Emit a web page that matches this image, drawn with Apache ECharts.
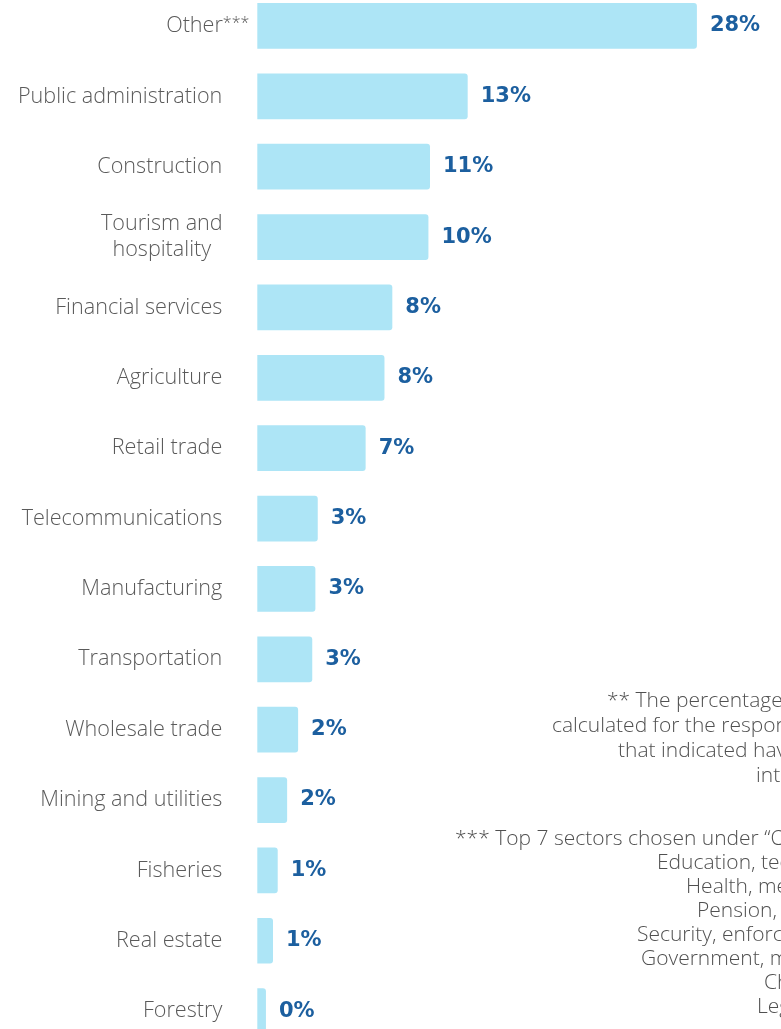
<!DOCTYPE html>
<html>
<head>
<meta charset="utf-8">
<script src="https://cdn.jsdelivr.net/npm/echarts@6/dist/echarts.min.js"></script>
<style>
html,body{margin:0;padding:0;background:#fff;overflow:hidden;}
#c{position:absolute;left:0;top:-20px;width:781px;height:1080px;}
</style>
</head>
<body>
<div id="c"></div>
<script>
const categories = ["Other***","Public administration","Construction","Tourism and hospitality","Financial services","Agriculture","Retail trade","Telecommunications","Manufacturing","Transportation","Wholesale trade","Mining and utilities","Fisheries","Real estate","Forestry"];
const values = [28.0,13.4,11.0,10.9,8.6,8.1,6.9,3.85,3.7,3.5,2.6,1.9,1.3,1.0,0.55];
const valueLabels = ["28%","13%","11%","10%","8%","8%","7%","3%","3%","3%","2%","2%","1%","1%","0%"];
const note1Lines = [
  "** The percentages were",
  "calculated for the respondents",
  "that indicated having",
  "interest"
];
const note1X = [607,552,618,756];
const note2Lines = [
  "*** Top 7 sectors chosen under \u201cOther\u201d",
  "Education, technology",
  "Health, medical",
  "Pension, insurance",
  "Security, enforcement",
  "Government, ministries",
  "Charity",
  "Legal"
];
const note2X = [455,657,686,697,637,641,764,757];

const OFF = 20; // div is shifted up by this many px
const chart = echarts.init(document.getElementById('c'), null, {renderer:'canvas'});
const FONT = 'Open Sans';
const NOTE_FONT = '300 21px "Open Sans"';
const graphics = []
  .concat(note1Lines.map((t,i)=>({
    type:'text', left: note1X[i], top: OFF + 691 + i*24.7,
    style:{text:t, fill:'#505050', font:NOTE_FONT, textAlign:'left'}
  })))
  .concat(note2Lines.map((t,i)=>({
    type:'text', left: note2X[i], top: OFF + 829 + i*24,
    style:{text:t, fill:'#505050', font:NOTE_FONT, textAlign:'left'}
  })));

chart.setOption({
  animation:false,
  backgroundColor:'#ffffff',
  grid:{left:257.3, top:OFF-9.2, width:471, height:1055.5, containLabel:false, outerBoundsMode:'none'},
  xAxis:{type:'value', min:0, max:30, show:false},
  yAxis:{
    type:'category', data:categories, inverse:true,
    axisLine:{show:false}, axisTick:{show:false}, splitLine:{show:false},
    axisLabel:{
      margin:35, color:'#5a5a5a', fontFamily:FONT, fontWeight:300, fontSize:21.6,
      formatter:function(v){
        if(v==='Other***') return '{a|Other}{s|***}';
        if(v==='Tourism and hospitality') return '{c|Tourism and}\n{c|hospitality}';
        return '{a|'+v+'}';
      },
      rich:{
        a:{color:'#5a5a5a', fontFamily:FONT, fontWeight:300, fontSize:21.6},
        s:{color:'#5a5a5a', fontFamily:FONT, fontWeight:300, fontSize:16, verticalAlign:'top', padding:[0,-27,4,0]},
        c:{color:'#5a5a5a', fontFamily:FONT, fontWeight:300, fontSize:21.6, width:121, align:'center', lineHeight:26}
      }
    }
  },
  series:[{
    type:'bar', data:values, barCategoryGap:'35%',
    itemStyle:{color:'#ade5f6', borderRadius:[0,3,3,0]},
    label:{
      show:true, position:'right', distance:13,
      color:'#1c5f9f', fontFamily:'DejaVu Sans', fontWeight:'bold', fontSize:21,
      formatter:function(p){return valueLabels[p.dataIndex];}
    }
  }],
  graphic: graphics
});
</script>
</body>
</html>
